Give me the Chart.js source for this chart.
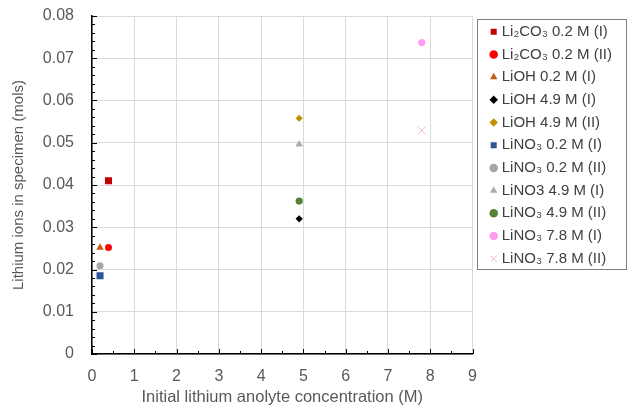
<!DOCTYPE html>
<html>
<head>
<meta charset="utf-8">
<script src="https://cdn.jsdelivr.net/npm/chart.js@4/dist/chart.umd.min.js"></script>
<style>
  html, body { margin: 0; padding: 0; background: #fff; }
  #wrap { width: 627px; height: 409px; }
</style>
</head>
<body>
<div id="wrap"><canvas id="scatterChart"></canvas></div>
<script>
// series
var seriesNames = ['Li₂CO₃ 0.2 M (I)', 'Li₂CO₃ 0.2 M (II)', 'LiOH 0.2 M (I)', 'LiOH 4.9 M (I)', 'LiOH 4.9 M (II)',
    'LiNO₃ 0.2 M (I)', 'LiNO₃ 0.2 M (II)', 'LiNO3 4.9 M (I)', 'LiNO₃ 4.9 M (II)', 'LiNO₃ 7.8 M (I)', 'LiNO₃ 7.8 M (II)'];
var xValues = [0.39, 0.39, 0.19, 4.9, 4.9, 0.19, 0.19, 4.9, 4.9, 7.8, 7.8];
var yValues = [0.041, 0.0252, 0.0252, 0.032, 0.0558, 0.0185, 0.0209, 0.0496, 0.0362, 0.0737, 0.0529];
var xTickValues = [0, 1, 2, 3, 4, 5, 6, 7, 8, 9];
var yTickValues = [0, 0.01, 0.02, 0.03, 0.04, 0.05, 0.06, 0.07, 0.08];

var colors = ['#C00000', '#FF0000', '#C55A11', '#000000', '#BF9000',
    '#2F5597', '#A5A5A5', '#AEAAAA', '#548235', '#FF9CF0', '#F4B6C2'];
var shapes = ['rect', 'circle', 'triangle', 'rectRot', 'rectRot',
    'rect', 'circle', 'triangle', 'circle', 'circle', 'crossRot'];
var radii = [5, 3.5, 4.3, 3.6, 3.6, 5, 3.5, 4.3, 3.6, 3.6, 5.5];

var FONT = '"Liberation Sans", Arial, sans-serif';

var datasets = seriesNames.map(function(name, i) {
    return {
        label: name,
        data: [{x: xValues[i], y: yValues[i]}],
        pointStyle: shapes[i],
        pointRadius: radii[i],
        pointHoverRadius: radii[i],
        backgroundColor: colors[i],
        borderColor: colors[i],
        borderWidth: shapes[i] === 'crossRot' ? 1 : 0
    };
});

// inward major/minor tick marks like the original
var innerTicks = {
    id: 'innerTicks',
    beforeDatasetsDraw: function(chart) {
        var ctx = chart.ctx, a = chart.chartArea;
        var xs = chart.scales.x, ys = chart.scales.y;
        ctx.save();
        ctx.strokeStyle = '#000';
        ctx.lineWidth = 1;
        ctx.beginPath();
        for (var v = 0; v <= 0.0801; v += 0.002) {
            var py = Math.round(ys.getPixelForValue(v)) + 0.5;
            var major = Math.abs(v / 0.01 - Math.round(v / 0.01)) < 1e-6;
            ctx.moveTo(a.left, py);
            ctx.lineTo(a.left + (major ? 5 : 3), py);
        }
        for (var u = 0; u <= 9; u += 0.5) {
            var px = Math.round(xs.getPixelForValue(u)) + 0.5;
            ctx.moveTo(px, a.bottom);
            ctx.lineTo(px, a.bottom - (u % 1 === 0 ? 5 : 3));
        }
        ctx.stroke();
        ctx.restore();
    }
};

// legend sits a bit right of the plot, inside a grey frame
var legendFrame = {
    id: 'legendFrame',
    beforeDraw: function(chart) {
        var lg = chart.legend;
        lg.left = chart.chartArea.right + 13;
        lg.right = lg.left + lg.width;
        lg.top = 16.5;
        lg.bottom = lg.top + lg.height;
    },
    afterDraw: function(chart) {
        var ctx = chart.ctx;
        ctx.save();
        ctx.strokeStyle = '#7F7F7F';
        ctx.lineWidth = 1;
        ctx.strokeRect(477.5, 19.5, 149, 250);
        ctx.restore();
    }
};

var ctx = document.getElementById('scatterChart').getContext('2d');
var scatterChart = new Chart(ctx, {
    type: 'scatter',
    data: { datasets: datasets },
    options: {
        responsive: true,
        maintainAspectRatio: false,
        animation: false,
        layout: {
            padding: { top: 0, right: 18, bottom: 0, left: 8 }
        },
        scales: {
            x: {
                min: 0,
                max: 9,
                afterBuildTicks: function(scale) {
                    scale.ticks = xTickValues.map(function(v) { return {value: v}; });
                },
                afterFit: function(scale) { scale.height = 55; },
                grid: { color: '#D9D9D9', drawTicks: false, tickLength: 0 },
                border: { color: '#000', width: 1.5 },
                ticks: { color: '#595959', font: { family: FONT, size: 16, lineHeight: 1 }, padding: 15, maxRotation: 0 },
                title: {
                    display: true,
                    text: 'Initial lithium anolyte concentration (M)',
                    color: '#595959',
                    font: { family: FONT, size: 16.5 },
                    padding: { top: 0, bottom: 2 }
                }
            },
            y: {
                min: 0,
                max: 0.08,
                afterBuildTicks: function(scale) {
                    scale.ticks = yTickValues.map(function(v) { return {value: v}; });
                },
                afterFit: function(scale) {
                    scale.width = 84;
                    scale.paddingTop = 16;
                    scale.paddingBottom = 10;
                },
                grid: { color: '#D9D9D9', drawTicks: false, tickLength: 0 },
                border: { color: '#000', width: 1.5 },
                ticks: {
                    color: '#595959',
                    font: { family: FONT, size: 16 },
                    padding: 18,
                    callback: function(v) { return String(Math.round(v * 100) / 100); }
                },
                title: {
                    display: true,
                    text: 'Lithium ions in specimen (mols)',
                    color: '#595959',
                    font: { family: FONT, size: 15 },
                    padding: { top: 2, bottom: 0 }
                }
            }
        },
        plugins: {
            legend: {
                position: 'right',
                align: 'start',
                labels: {
                    usePointStyle: true,
                    boxWidth: 1,
                    boxHeight: 6,
                    padding: 7.7,
                    color: '#404040',
                    font: { family: FONT, size: 15 }
                }
            },
            tooltip: { enabled: false }
        }
    },
    plugins: [innerTicks, legendFrame]
});
</script>
</body>
</html>
